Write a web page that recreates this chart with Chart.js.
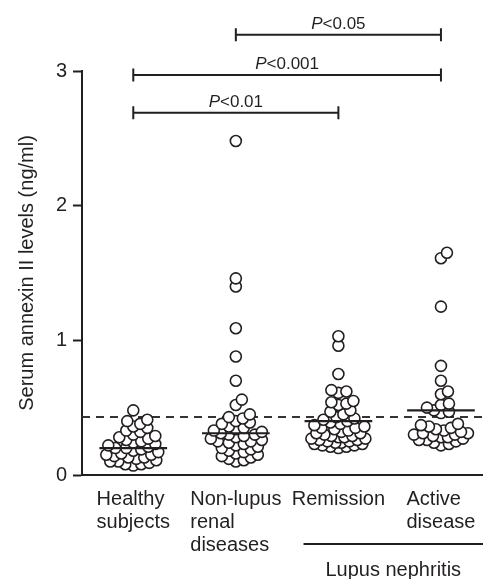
<!DOCTYPE html>
<html>
<head>
<meta charset="utf-8">
<script src="https://cdn.jsdelivr.net/npm/chart.js@4"></script>
<style>
  html, body { margin: 0; padding: 0; background: #fff; }
  #wrap { width: 483px; height: 579px; }
</style>
</head>
<body>
<div id="wrap"><canvas id="annexin-chart" width="483" height="579"></canvas></div>
<script>
// Data (ng/ml)
const groupLabels = [['Healthy', 'subjects'], ['Non-lupus', 'renal', 'diseases'], ['Remission'], ['Active', 'disease']];
const healthy = [0.48, 0.41, 0.40, 0.38, 0.36, 0.35, 0.33, 0.32, 0.30, 0.29, 0.28, 0.27, 0.26, 0.25, 0.24, 0.23, 0.22, 0.21, 0.20, 0.20,
  0.19, 0.18, 0.17, 0.16, 0.15, 0.15, 0.14, 0.13, 0.13, 0.12, 0.11, 0.10, 0.10, 0.09, 0.08, 0.08, 0.07];
const nonLupus = [2.48, 1.46, 1.40, 1.09, 0.88, 0.70, 0.56, 0.52, 0.45, 0.43, 0.42, 0.40, 0.39, 0.38, 0.36, 0.35, 0.34, 0.33, 0.32,
  0.31, 0.30, 0.30, 0.29, 0.28, 0.27, 0.26, 0.25, 0.25, 0.24, 0.23, 0.22, 0.21, 0.20, 0.19, 0.18, 0.17, 0.16, 0.15, 0.14, 0.13, 0.12, 0.11, 0.10];
const remission = [1.03, 0.96, 0.75, 0.63, 0.62, 0.61, 0.55, 0.54, 0.53, 0.52, 0.48, 0.47, 0.45, 0.43, 0.42, 0.41, 0.40, 0.39, 0.38,
  0.37, 0.36, 0.35, 0.35, 0.34, 0.33, 0.32, 0.31, 0.31, 0.30, 0.29, 0.29, 0.28, 0.28, 0.27, 0.27, 0.26, 0.26, 0.25, 0.25, 0.24, 0.24,
  0.23, 0.23, 0.22, 0.22, 0.21, 0.21, 0.20];
const active = [1.65, 1.61, 1.25, 0.81, 0.70, 0.62, 0.60, 0.53, 0.52, 0.50, 0.48, 0.47, 0.46, 0.38, 0.37, 0.36, 0.35, 0.34, 0.33,
  0.32, 0.31, 0.31, 0.30, 0.30, 0.29, 0.28, 0.28, 0.27, 0.26, 0.26, 0.25, 0.24, 0.23, 0.22];
const groupLines = [0.20, 0.31, 0.40, 0.48];   // horizontal bar drawn in each group
const cutoff = 0.43;                          // dashed reference level
const yTicks = [0, 1, 2, 3];
const comparisons = [
  { from: 1, to: 3, level: 2.69, p: '<0.01' },
  { from: 1, to: 4, level: 2.97, p: '<0.001' },
  { from: 2, to: 4, level: 3.27, p: '<0.05' }
];
const subgroupTitle = 'Lupus nephritis';

const FONT = '"Liberation Sans", Arial, Helvetica, sans-serif';
const INK = '#231f20';

// spread points sideways so they don't sit on top of each other (deterministic swarm)
const PX_PER_X = 401 / 3.91, PX_PER_Y = 404 / 3;
function swarm(values, center) {
  const placed = [];
  const sorted = values.slice().sort((a, b) => a - b);
  sorted.forEach(v => {
    let bestOff = 0, bestD = -1;
    for (let k = 0; k <= 54; k++) {
      const off = (k % 2 === 1 ? 1 : -1) * Math.ceil(k / 2);
      let minD = Infinity;
      placed.forEach(p => {
        const d = Math.hypot(p.ox - off, (p.v - v) * PX_PER_Y);
        if (d < minD) minD = d;
      });
      if (minD >= 7.5) { bestOff = off; bestD = minD; break; }
      if (minD > bestD) { bestD = minD; bestOff = off; }
    }
    placed.push({ ox: bestOff, v: v });
  });
  return placed.map(p => ({ x: center + p.ox / PX_PER_X, y: p.v }));
}

const allGroups = [healthy, nonLupus, remission, active];

const extras = {
  id: 'extras',
  beforeDatasetsDraw(chart) {
    const { ctx, chartArea, scales: { y } } = chart;
    ctx.save();
    ctx.strokeStyle = '#333';
    ctx.lineWidth = 2;
    ctx.setLineDash([8, 6]);
    ctx.beginPath();
    ctx.moveTo(chartArea.left, y.getPixelForValue(cutoff));
    ctx.lineTo(chartArea.right, y.getPixelForValue(cutoff));
    ctx.stroke();
    ctx.restore();
  },
  afterDatasetsDraw(chart) {
    const { ctx, chartArea, scales: { x, y } } = chart;
    ctx.save();
    ctx.strokeStyle = INK;
    ctx.fillStyle = INK;
    ctx.lineWidth = 2.2;

    // group bars
    groupLines.forEach((v, i) => {
      const py = y.getPixelForValue(v);
      ctx.beginPath();
      ctx.moveTo(x.getPixelForValue(i + 1 - 0.33), py);
      ctx.lineTo(x.getPixelForValue(i + 1 + 0.33), py);
      ctx.stroke();
    });

    // significance brackets
    ctx.lineWidth = 2;
    comparisons.forEach(c => {
      const x1 = x.getPixelForValue(c.from), x2 = x.getPixelForValue(c.to);
      const py = y.getPixelForValue(c.level);
      ctx.beginPath();
      ctx.moveTo(x1, py); ctx.lineTo(x2, py);
      ctx.moveTo(x1, py - 6.5); ctx.lineTo(x1, py + 6.5);
      ctx.moveTo(x2, py - 6.5); ctx.lineTo(x2, py + 6.5);
      ctx.stroke();
      ctx.textBaseline = 'alphabetic';
      ctx.textAlign = 'left';
      ctx.font = 'italic 17px ' + FONT;
      const wP = ctx.measureText('P').width;
      ctx.font = '17px ' + FONT;
      const wR = ctx.measureText(c.p).width;
      const start = (x1 + x2) / 2 - (wP + wR) / 2;
      ctx.font = 'italic 17px ' + FONT;
      ctx.fillText('P', start, py - 6);
      ctx.font = '17px ' + FONT;
      ctx.fillText(c.p, start + wP, py - 6);
    });

    // category labels: block centred on the group, lines left aligned
    ctx.font = '20px ' + FONT;
    ctx.textAlign = 'left';
    groupLabels.forEach((lines, i) => {
      const w = Math.max(...lines.map(l => ctx.measureText(l).width));
      const left = x.getPixelForValue(i + 1) - w / 2;
      lines.forEach((l, j) => ctx.fillText(l, left, x.top + 30 + j * 23));
    });

    // lupus nephritis bracket under the last two groups
    const lx1 = x.getPixelForValue(2.66), lx2 = chartArea.right;
    ctx.beginPath();
    ctx.moveTo(lx1, x.top + 69);
    ctx.lineTo(lx2, x.top + 69);
    ctx.stroke();
    ctx.textAlign = 'center';
    ctx.fillText(subgroupTitle, (lx1 + lx2) / 2, x.top + 101);
    ctx.restore();
  }
};

const config = {
  type: 'scatter',
  data: {
    datasets: allGroups.map((vals, i) => ({
      label: groupLabels[i].join(' '),
      data: swarm(vals, i + 1),
      backgroundColor: '#fff',
      borderColor: INK,
      borderWidth: 1.6,
      pointRadius: 5.5,
      pointHoverRadius: 5.5
    }))
  },
  options: {
    responsive: false,
    animation: false,
    devicePixelRatio: 1,
    layout: { autoPadding: false, padding: { top: 71, right: 0, left: 0, bottom: 0 } },
    plugins: { legend: { display: false }, tooltip: { enabled: false } },
    scales: {
      x: {
        type: 'linear',
        min: 0.5,
        max: 4.41,
        grid: { display: false, drawTicks: false },
        border: { display: true, color: INK, width: 2 },
        ticks: { display: false },
        afterFit: s => { s.height = 104; }
      },
      y: {
        min: 0,
        max: 3,
        afterBuildTicks: s => { s.ticks = yTicks.map(v => ({ value: v })); },
        ticks: { color: INK, font: { family: FONT, size: 20 }, padding: 6 },
        grid: { drawOnChartArea: false, drawTicks: true, tickLength: 9, tickWidth: 2, color: INK },
        border: { display: true, color: INK, width: 2 },
        title: {
          display: true,
          text: 'Serum annexin II levels (ng/ml)',
          color: INK,
          font: { family: FONT, size: 20 },
          padding: { top: 15, bottom: 0 }
        },
        afterFit: s => { s.width = 82; }
      }
    }
  },
  plugins: [extras]
};

const annexinChart = new Chart(document.getElementById('annexin-chart').getContext('2d'), config);
</script>
</body>
</html>
